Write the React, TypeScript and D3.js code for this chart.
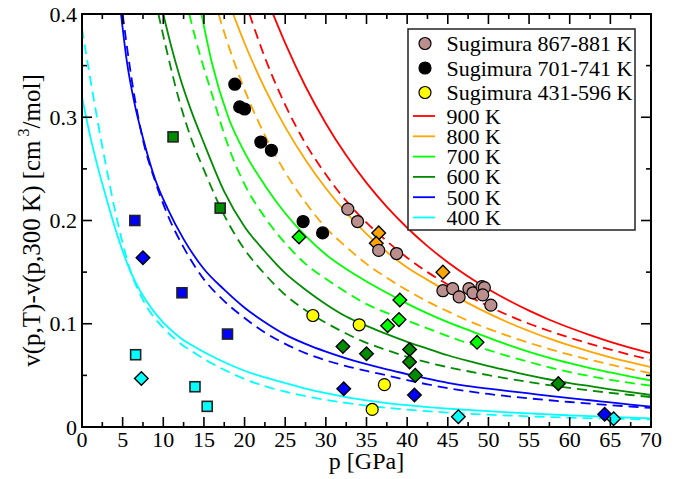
import React from 'react';
import * as d3 from 'd3';

type Pt = [number, number];

// ---- model curves (p [GPa], dv [cm3/mol]) ----
const curve900Solid: Pt[] = [[23.5,0.400],[25,0.3718],[27.5,0.3298],[30,0.2940],[32.5,0.2631],[35,0.2364],[37.5,0.2132],[40,0.1930],[42.5,0.1752],[45,0.1596],[47.5,0.1457],[50,0.1334],[52.5,0.1225],[55,0.1127],[57.5,0.1039],[60,0.0961],[62.5,0.0890],[65,0.0825],[67.5,0.0767],[70,0.0714]];
const curve900Dashed: Pt[] = [[20.6,0.400],[22.5,0.3578],[25,0.3120],[27.5,0.2745],[30,0.2445],[32.5,0.219],[35,0.198],[37.5,0.180],[40,0.164],[42.5,0.150],[45,0.138],[47.5,0.127],[50,0.117],[52.5,0.108],[55,0.100],[57.5,0.093],[60,0.0865],[62.5,0.0805],[65,0.075],[67.5,0.0698],[70,0.065]];
const curve800Solid: Pt[] = [[18.6,0.400],[20,0.3717],[22.5,0.3278],[25,0.2904],[27.5,0.2586],[30,0.2312],[32.5,0.2076],[35,0.1871],[37.5,0.1695],[40,0.1545],[42.5,0.1425],[45,0.131],[47.5,0.120],[50,0.110],[52.5,0.101],[55,0.093],[57.5,0.0855],[60,0.079],[62.5,0.073],[65,0.0675],[67.5,0.0626],[70,0.058]];
const curve800Dashed: Pt[] = [[16.8,0.400],[17.5,0.3821],[20,0.3267],[22.5,0.2825],[25,0.2467],[27.5,0.2174],[30,0.1929],[32.5,0.1745],[35,0.158],[37.5,0.1445],[40,0.1325],[42.5,0.1215],[45,0.112],[47.5,0.103],[50,0.095],[52.5,0.088],[55,0.0815],[57.5,0.0755],[60,0.070],[62.5,0.065],[65,0.0605],[67.5,0.056],[70,0.052]];
const curve700Solid: Pt[] = [[14.7,0.400],[16,0.352],[18,0.300],[20,0.266],[22.5,0.234],[25,0.207],[27.5,0.185],[30,0.167],[32.5,0.153],[35,0.141],[37.5,0.130],[40,0.1195],[42.5,0.110],[45,0.1015],[47.5,0.094],[50,0.0865],[52.5,0.0793],[55,0.0728],[57.5,0.067],[60,0.0618],[62.5,0.057],[65,0.0528],[67.5,0.0488],[70,0.045]];
const curve700Dashed: Pt[] = [[13.2,0.400],[14,0.375],[16,0.322],[18,0.272],[20,0.235],[22.5,0.203],[25,0.178],[27.5,0.158],[30,0.1435],[32.5,0.1305],[35,0.119],[37.5,0.1105],[40,0.103],[42.5,0.0955],[45,0.088],[47.5,0.081],[50,0.0745],[52.5,0.0685],[55,0.063],[57.5,0.0578],[60,0.0532],[62.5,0.0492],[65,0.0457],[67.5,0.0427],[70,0.040]];
const curve600Solid: Pt[] = [[10,0.400],[11,0.368],[12,0.340],[13.5,0.305],[15,0.275],[17.5,0.228],[20,0.194],[22.5,0.170],[25,0.149],[27.5,0.133],[30,0.119],[32.5,0.107],[35,0.098],[37.5,0.090],[40,0.0825],[42.5,0.076],[45,0.0695],[47.5,0.064],[50,0.059],[52.5,0.0545],[55,0.050],[57.5,0.046],[60,0.0425],[62.5,0.0395],[65,0.0365],[67.5,0.0337],[70,0.031]];
const curve600Dashed: Pt[] = [[9.4,0.400],[10.5,0.362],[12,0.315],[13.5,0.278],[15,0.249],[17.5,0.205],[20,0.172],[22.5,0.148],[25,0.128],[27.5,0.113],[30,0.101],[32.5,0.0905],[35,0.0815],[37.5,0.0745],[40,0.068],[42.5,0.0625],[45,0.058],[47.5,0.054],[50,0.0502],[52.5,0.0467],[55,0.0435],[57.5,0.0405],[60,0.0378],[62.5,0.0353],[65,0.0331],[67.5,0.031],[70,0.029]];
const curve500Solid: Pt[] = [[4.8,0.400],[5.5,0.355],[6.5,0.312],[7.5,0.280],[9,0.240],[10.5,0.212],[12.5,0.182],[15,0.153],[17.5,0.133],[20,0.1155],[22.5,0.1015],[25,0.0895],[27.5,0.0805],[30,0.073],[32.5,0.0665],[35,0.0608],[37.5,0.0558],[40,0.0513],[42.5,0.0468],[45,0.0428],[47.5,0.0396],[50,0.0372],[52.5,0.0348],[55,0.0325],[57.5,0.0302],[60,0.028],[62.5,0.0259],[65,0.0238],[67.5,0.0217],[70,0.0197]];
const curve500Dashed: Pt[] = [[5.0,0.400],[5.5,0.370],[6.5,0.318],[7.5,0.278],[9,0.238],[10.5,0.206],[12.5,0.174],[15,0.143],[17.5,0.122],[20,0.1055],[22.5,0.0915],[25,0.0805],[27.5,0.0715],[30,0.0645],[32.5,0.059],[35,0.0543],[37.5,0.050],[40,0.0455],[42.5,0.0413],[45,0.0377],[47.5,0.0346],[50,0.032],[52.5,0.0297],[55,0.0277],[57.5,0.0259],[60,0.0242],[62.5,0.0227],[65,0.0212],[67.5,0.0198],[70,0.0185]];
const curve400Solid: Pt[] = [[0,0.320],[1,0.282],[2,0.250],[3,0.2215],[4,0.1945],[5,0.1705],[6,0.150],[7,0.134],[8,0.121],[10,0.101],[12,0.087],[14,0.077],[16,0.0685],[18,0.061],[20,0.0545],[22.5,0.048],[25,0.0425],[27.5,0.0372],[30,0.0328],[32.5,0.029],[35,0.0258],[37.5,0.0232],[40,0.0211],[42.5,0.0193],[45,0.0178],[47.5,0.0165],[50,0.0153],[52.5,0.0142],[55,0.0132],[57.5,0.0122],[60,0.0113],[62.5,0.0105],[65,0.0097],[67.5,0.009],[70,0.0084]];
const curve400Dashed: Pt[] = [[0,0.386],[1,0.338],[2,0.293],[3,0.251],[4,0.212],[5,0.178],[6,0.150],[7,0.131],[8,0.116],[10,0.096],[12,0.0815],[14,0.071],[16,0.0615],[18,0.0535],[20,0.0465],[22.5,0.0395],[25,0.0342],[27.5,0.0299],[30,0.0263],[32.5,0.0233],[35,0.0207],[37.5,0.0186],[40,0.0168],[42.5,0.0153],[45,0.014],[47.5,0.0129],[50,0.0119],[52.5,0.0111],[55,0.0103],[57.5,0.0096],[60,0.009],[62.5,0.0085],[65,0.008],[67.5,0.0077],[70,0.0073]];

// ---- experimental points ----
const sugimura867: Pt[] = [[32.7,0.211],[33.9,0.199],[36.5,0.171],[38.7,0.168],[44.4,0.132],[45.6,0.134],[46.4,0.126],[47.6,0.134],[48.1,0.130],[49.2,0.136],[49.5,0.135],[49.3,0.128],[50.3,0.118]];
const sugimura701: Pt[] = [[18.8,0.332],[19.4,0.310],[20.0,0.308],[22.0,0.276],[23.3,0.268],[27.2,0.199],[29.6,0.188]];
const sugimura431: Pt[] = [[28.4,0.108],[34.1,0.099],[37.2,0.041],[35.7,0.017]];

const diamonds800: Pt[] = [[36.5,0.188],[36.2,0.178],[44.4,0.150]];
const diamonds700: Pt[] = [[26.7,0.184],[39.1,0.123],[39.0,0.104],[37.6,0.098],[48.6,0.082]];
const diamonds600: Pt[] = [[32.1,0.078],[35.0,0.071],[40.3,0.075],[40.3,0.063],[41.0,0.050],[58.6,0.042]];
const diamonds500: Pt[] = [[7.5,0.164],[32.2,0.037],[40.9,0.031],[64.3,0.0123]];
const diamonds400: Pt[] = [[7.3,0.047],[46.3,0.010],[65.4,0.008]];

const squares600: Pt[] = [[11.2,0.281],[17.0,0.212]];
const squares500: Pt[] = [[6.5,0.200],[12.3,0.130],[17.9,0.090]];
const squares400: Pt[] = [[6.6,0.070],[13.9,0.039],[15.4,0.020]];

const xTicks = [0, 5, 10, 15, 20, 25, 30, 35, 40, 45, 50, 55, 60, 65, 70];
const xMinor = [2.5, 7.5, 12.5, 17.5, 22.5, 27.5, 32.5, 37.5, 42.5, 47.5, 52.5, 57.5, 62.5, 67.5];
const yTicks = [0, 0.1, 0.2, 0.3, 0.4];
const yTickLabels = ['0', '0.1', '0.2', '0.3', '0.4'];
const yMinor = [0.05, 0.15, 0.25, 0.35];

const legendCircles = ['Sugimura 867-881 K', 'Sugimura 701-741 K', 'Sugimura 431-596 K'];
const legendLines = ['900 K', '800 K', '700 K', '600 K', '500 K', '400 K'];

const RED = '#ff0000', ORANGE = '#ffa500', LIME = '#00ff00', DKGREEN = '#008b00', BLUE = '#0000ff', CYAN = '#00ffff';
const BROWN = '#bc8f8f';

const W = 677, H = 479;
const L = 82, R = 651, T = 14, B = 427;
const FONT = "'Liberation Serif', 'Times New Roman', 'DejaVu Serif', serif";

export default function App() {
  const x = d3.scaleLinear().domain([0, 70]).range([L, R]);
  const y = d3.scaleLinear().domain([0, 0.4]).range([B, T]);
  const line = d3.line<Pt>().x(d => x(d[0])).y(d => y(d[1])).curve(d3.curveMonotoneX);

  const curves: { d: Pt[]; c: string; dash: boolean }[] = [
    { d: curve400Solid, c: CYAN, dash: false }, { d: curve400Dashed, c: CYAN, dash: true },
    { d: curve500Solid, c: BLUE, dash: false }, { d: curve500Dashed, c: BLUE, dash: true },
    { d: curve600Solid, c: DKGREEN, dash: false }, { d: curve600Dashed, c: DKGREEN, dash: true },
    { d: curve700Solid, c: LIME, dash: false }, { d: curve700Dashed, c: LIME, dash: true },
    { d: curve800Solid, c: ORANGE, dash: false }, { d: curve800Dashed, c: ORANGE, dash: true },
    { d: curve900Solid, c: RED, dash: false }, { d: curve900Dashed, c: RED, dash: true },
  ];

  const diamondPath = (cx: number, cy: number, r: number) => `M${cx},${cy - r}L${cx + r},${cy}L${cx},${cy + r}L${cx - r},${cy}Z`;

  const squareSets: { d: Pt[]; c: string }[] = [
    { d: squares600, c: DKGREEN }, { d: squares500, c: BLUE }, { d: squares400, c: CYAN },
  ];
  const diamondSets: { d: Pt[]; c: string }[] = [
    { d: diamonds800, c: ORANGE }, { d: diamonds700, c: LIME }, { d: diamonds600, c: DKGREEN },
    { d: diamonds500, c: BLUE }, { d: diamonds400, c: CYAN },
  ];
  const circleSets: { d: Pt[]; c: string }[] = [
    { d: sugimura867, c: BROWN }, { d: sugimura701, c: '#000000' }, { d: sugimura431, c: '#ffff00' },
  ];
  const legendLineColors = [RED, ORANGE, LIME, DKGREEN, BLUE, CYAN];

  const legX = 408, legY = 29, legW = 227, legH = 201;
  const ts = { fontFamily: FONT };

  return (
    <svg width={W} height={H} style={{ position: 'absolute', left: 0, top: 0, background: '#fff' }}>
      <style>{`text, tspan { font-family: 'Liberation Serif', 'Times New Roman', 'DejaVu Serif', serif; }`}</style>
      <rect x={0} y={0} width={W} height={H} fill="#fff" />
      <defs>
        <clipPath id="plotClip">
          <rect x={L} y={T} width={R - L} height={B - T} />
        </clipPath>
      </defs>
      <g clipPath="url(#plotClip)">
        {curves.map((cv, i) => (
          <path key={i} d={line(cv.d) || ''} fill="none" stroke={cv.c} strokeWidth={1.8}
            strokeDasharray={cv.dash ? '10,6' : undefined} />
        ))}
      </g>
      {squareSets.map((s, i) => s.d.map((p, j) => (
        <rect key={`s${i}-${j}`} x={x(p[0]) - 5} y={y(p[1]) - 5} width={10} height={10}
          fill={s.c} stroke="#222" strokeWidth={1.6} />
      )))}
      {diamondSets.map((s, i) => s.d.map((p, j) => (
        <path key={`d${i}-${j}`} d={diamondPath(x(p[0]), y(p[1]), 6.8)} fill={s.c} stroke="#000" strokeWidth={1.4} />
      )))}
      {circleSets.map((s, i) => s.d.map((p, j) => (
        <circle key={`c${i}-${j}`} cx={x(p[0])} cy={y(p[1])} r={6} fill={s.c} stroke="#000" strokeWidth={1.2} />
      )))}

      {/* frame */}
      <rect x={L} y={T} width={R - L} height={B - T} fill="none" stroke="#000" strokeWidth={2} />
      {xTicks.map(t => (
        <g key={`xt${t}`}>
          <line x1={x(t)} x2={x(t)} y1={B} y2={B - 10} stroke="#000" strokeWidth={1.6} />
          <line x1={x(t)} x2={x(t)} y1={T} y2={T + 10} stroke="#000" strokeWidth={1.6} />
          <text x={x(t)} y={447} textAnchor="middle" fontSize={22} style={ts}>{t}</text>
        </g>
      ))}
      {xMinor.map(t => (
        <g key={`xm${t}`}>
          <line x1={x(t)} x2={x(t)} y1={B} y2={B - 5} stroke="#000" strokeWidth={1.6} />
          <line x1={x(t)} x2={x(t)} y1={T} y2={T + 5} stroke="#000" strokeWidth={1.6} />
        </g>
      ))}
      {yTicks.map((t, i) => (
        <g key={`yt${t}`}>
          <line x1={L} x2={L + 10} y1={y(t)} y2={y(t)} stroke="#000" strokeWidth={1.6} />
          <line x1={R} x2={R - 10} y1={y(t)} y2={y(t)} stroke="#000" strokeWidth={1.6} />
          <text x={77} y={y(t) + 7.5} textAnchor="end" fontSize={22} style={ts}>{yTickLabels[i]}</text>
        </g>
      ))}
      {yMinor.map(t => (
        <g key={`ym${t}`}>
          <line x1={L} x2={L + 5} y1={y(t)} y2={y(t)} stroke="#000" strokeWidth={1.6} />
          <line x1={R} x2={R - 5} y1={y(t)} y2={y(t)} stroke="#000" strokeWidth={1.6} />
        </g>
      ))}

      {/* axis labels */}
      <text x={(L + R) / 2} y={469} textAnchor="middle" fontSize={24} style={ts}>p [GPa]</text>
      <text transform={`translate(40,${(T + B) / 2}) rotate(-90)`} textAnchor="middle" fontSize={25} style={ts}>
        v(p,T)-v(p,300 K) [cm<tspan fontSize={16} dx={4} dy={-11}>3</tspan><tspan dy={11}>/mol]</tspan>
      </text>

      {/* legend */}
      <rect x={legX} y={legY} width={legW} height={legH} fill="#fff" stroke="#222" strokeWidth={1.5} />
      {legendCircles.map((lab, i) => {
        const cy = 43.5 + i * 24.5;
        return (
          <g key={`lc${i}`}>
            <circle cx={425} cy={cy} r={6} fill={circleSets[i].c} stroke="#000" strokeWidth={1.2} />
            <text x={446.5} y={cy + 7.5} fontSize={22} style={ts}>{lab}</text>
          </g>
        );
      })}
      {legendLines.map((lab, i) => {
        const ly = 116 + i * 20.3;
        return (
          <g key={`ll${i}`}>
            <line x1={413} x2={435} y1={ly} y2={ly} stroke={legendLineColors[i]} strokeWidth={1.8} />
            <text x={446.5} y={ly + 7.5} fontSize={22} style={ts}>{lab}</text>
          </g>
        );
      })}
    </svg>
  );
}
